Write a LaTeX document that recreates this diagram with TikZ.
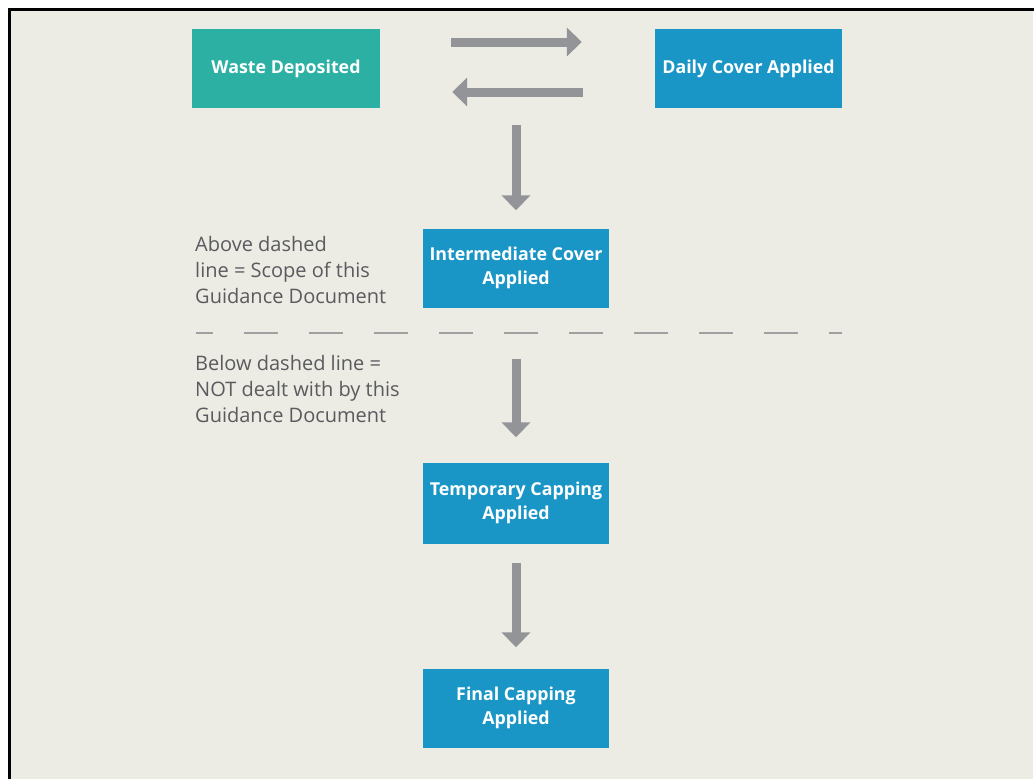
\documentclass[tikz,border=0pt]{standalone}
\usepackage{fontspec}
\setmainfont{Open Sans}
\usetikzlibrary{arrows.meta}
\definecolor{bgc}{RGB}{236,236,228}
\definecolor{tealc}{RGB}{45,176,164}
\definecolor{bluec}{RGB}{26,150,198}
\definecolor{arrc}{RGB}{146,148,151}
\definecolor{txtc}{RGB}{90,90,95}
\definecolor{dashc}{RGB}{160,160,160}
\tikzset{
  box/.style={draw=none, inner sep=0pt, text=white, align=center,
    font=\fontsize{17.8}{24}\selectfont\bfseries},
  flowarrow/.style={draw=arrc, line width=9pt, -{Triangle[width=28pt,length=15pt]}},
  note/.style={inner sep=0pt, anchor=base west, align=left, text=txtc,
    font=\fontsize{20}{26}\selectfont},
}
\begin{document}
\begin{tikzpicture}[x=1pt,y=-1pt]
\useasboundingbox (0,0) rectangle (1034,779);
\fill[white] (0,0) rectangle (1034,779);
\fill[bgc] (9,9) rectangle (1033,779);
\draw[black, line width=3pt] (9,779) -- (9,9) -- (1034,9);

\node[box, fill=tealc, minimum width=188pt, minimum height=79pt] (waste) at (286,68.5) {Waste Deposited};
\node[box, fill=bluec, minimum width=187pt, minimum height=79pt] (daily) at (748.5,68.5) {Daily Cover Applied};
\node[box, fill=bluec, minimum width=186pt, minimum height=79pt] (inter) at (516,268) {Intermediate Cover\\Applied};
\node[box, fill=bluec, minimum width=186pt, minimum height=81pt] (temp) at (516,503) {Temporary Capping\\Applied};
\node[box, fill=bluec, minimum width=186pt, minimum height=79pt] (final) at (516,708) {Final Capping\\Applied};

\node[note] (above) at (195,303) {Above dashed\\line = Scope of this\\Guidance Document};
\node[note] (below) at (195,422) {Below dashed line =\\NOT dealt with by this\\Guidance Document};

\draw[flowarrow, shorten <=71pt, shorten >=73pt] ([yshift=26.5pt]waste.east) -- ([yshift=26.5pt]daily.west);
\draw[flowarrow, shorten <=72pt, shorten >=72pt] ([yshift=-23.5pt]daily.west) -- ([yshift=-23.5pt]waste.east);
\draw[flowarrow, shorten <=17pt, shorten >=18pt] (inter.north |- waste.south) -- (inter.north);
\draw[flowarrow, shorten <=51pt, shorten >=25pt] (inter.south) -- (temp.north);
\draw[flowarrow, shorten <=19pt, shorten >=21pt] (temp.south) -- (final.north);

\coordinate (dl) at (196,333);
\coordinate (dr) at (842,333);
\draw[dashc, line width=2pt, dash pattern=on 34pt off 31pt, dash phase=17pt] (dl) -- (dr);
\end{tikzpicture}
\end{document}
